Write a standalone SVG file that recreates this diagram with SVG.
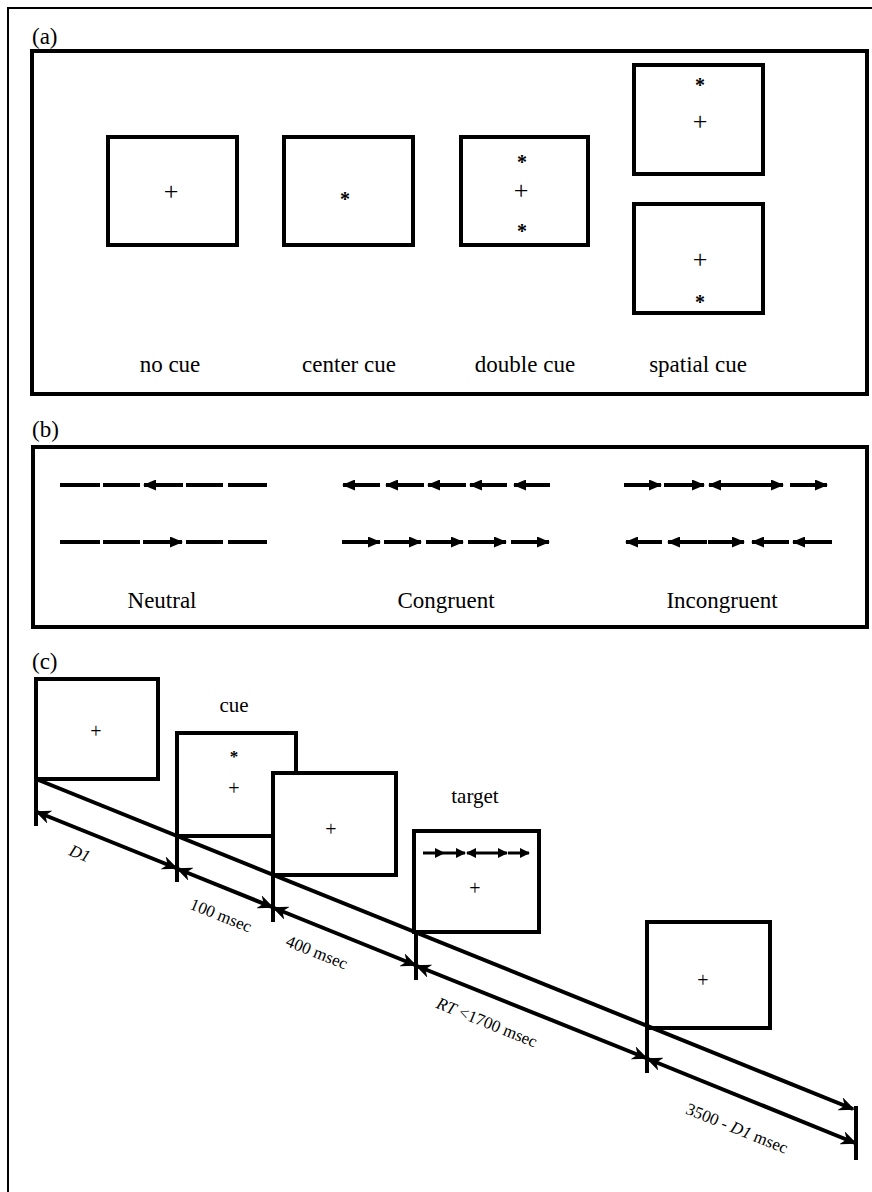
<svg xmlns="http://www.w3.org/2000/svg" width="872" height="1192" viewBox="0 0 872 1192">
<defs>
<style>
text{font-family:'Liberation Serif','Times New Roman',Times,serif;fill:#000}
.lbl{font-size:23px}
.bx{fill:#fff;stroke:#000;stroke-width:4}
.pl{font-size:26px;text-anchor:middle}
.as{font-size:20px;text-anchor:middle;font-weight:bold}
.fl{stroke:#000;stroke-width:4;fill:none}
.fa{stroke:#000;stroke-width:4;fill:none;marker-end:url(#hb)}
.ta{stroke:#000;stroke-width:3;fill:none;marker-end:url(#hs)}
.tl{stroke:#000;stroke-width:4;fill:none}
.dl{stroke:#000;stroke-width:4;fill:none;marker-start:url(#hc);marker-end:url(#hc)}
.rl{font-size:17px;text-anchor:middle}
</style>
<marker id="hb" markerUnits="userSpaceOnUse" markerWidth="13" markerHeight="11" refX="12" refY="5.5" orient="auto"><path d="M0,0 L13,5.5 L0,11 z" fill="#000"/></marker>
<marker id="hs" markerUnits="userSpaceOnUse" markerWidth="10" markerHeight="10" refX="9" refY="5" orient="auto"><path d="M0,0 L10,5 L0,10 z" fill="#000"/></marker>
<marker id="hc" markerUnits="userSpaceOnUse" markerWidth="16" markerHeight="14" refX="14" refY="7" orient="auto-start-reverse"><path d="M0,0 L16,7 L0,14 L5,7 z" fill="#000"/></marker>
</defs>
<rect width="872" height="1192" fill="#fff"/>
<path d="M8,1192 V8 H872" fill="none" stroke="#000" stroke-width="2"/>

<g font-family="'Liberation Serif', 'Times New Roman', serif">
<g id="panel-a">
<text class="lbl" x="32" y="44">(a)</text>
<rect x="32" y="51" width="835" height="343" fill="none" stroke="#000" stroke-width="4"/>
<g id="no-cue">
<rect class="bx" x="108" y="137" width="129" height="108"/>
<text class="pl" x="171" y="200">+</text>
<text class="lbl" x="170" y="372" text-anchor="middle">no cue</text>
</g>
<g id="center-cue">
<rect class="bx" x="284" y="137" width="129" height="108"/>
<text class="as" x="345" y="206">*</text>
<text class="lbl" x="349" y="372" text-anchor="middle">center cue</text>
</g>
<g id="double-cue">
<rect class="bx" x="461" y="137" width="127" height="108"/>
<text class="as" x="522" y="169">*</text>
<text class="pl" x="521" y="199">+</text>
<text class="as" x="522" y="238">*</text>
<text class="lbl" x="525" y="372" text-anchor="middle">double cue</text>
</g>
<g id="spatial-cue">
<rect class="bx" x="634" y="65" width="129" height="109"/>
<text class="as" x="700" y="92">*</text>
<text class="pl" x="700" y="130">+</text>
<rect class="bx" x="634" y="204" width="129" height="109"/>
<text class="pl" x="700" y="268">+</text>
<text class="as" x="700" y="309">*</text>
<text class="lbl" x="698" y="372" text-anchor="middle">spatial cue</text>
</g>
</g>

<g id="panel-b">
<text class="lbl" x="32" y="437">(b)</text>
<rect x="33" y="447" width="834" height="180" fill="none" stroke="#000" stroke-width="4"/>
<g id="neutral">
<path class="fl" d="M60,485 H100 M103,485 H140 M186,485 H223 M228,485 H267"/>
<line class="fa" x1="183" y1="485" x2="144" y2="485"/>
<path class="fl" d="M60,542 H100 M103,542 H140 M186,542 H223 M228,542 H267"/>
<line class="fa" x1="143" y1="542" x2="182" y2="542"/>
<text class="lbl" x="162" y="608" text-anchor="middle">Neutral</text>
</g>
<g id="congruent">
<line class="fa" x1="380" y1="485" x2="343" y2="485"/>
<line class="fa" x1="424" y1="485" x2="386" y2="485"/>
<line class="fa" x1="466" y1="485" x2="428" y2="485"/>
<line class="fa" x1="507" y1="485" x2="470" y2="485"/>
<line class="fa" x1="550" y1="485" x2="514" y2="485"/>
<line class="fa" x1="342" y1="542" x2="380" y2="542"/>
<line class="fa" x1="384" y1="542" x2="421" y2="542"/>
<line class="fa" x1="426" y1="542" x2="463" y2="542"/>
<line class="fa" x1="468" y1="542" x2="506" y2="542"/>
<line class="fa" x1="511" y1="542" x2="549" y2="542"/>
<text class="lbl" x="446" y="608" text-anchor="middle">Congruent</text>
</g>
<g id="incongruent">
<line class="fa" x1="624" y1="485" x2="661" y2="485"/>
<line class="fa" x1="664" y1="485" x2="704" y2="485"/>
<line class="fa" x1="746" y1="485" x2="709" y2="485"/>
<line class="fa" x1="746" y1="485" x2="783" y2="485"/>
<line class="fa" x1="790" y1="485" x2="827" y2="485"/>
<line class="fa" x1="662" y1="542" x2="626" y2="542"/>
<line class="fa" x1="707" y1="542" x2="668" y2="542"/>
<line class="fa" x1="708" y1="542" x2="744" y2="542"/>
<line class="fa" x1="789" y1="542" x2="752" y2="542"/>
<line class="fa" x1="832" y1="542" x2="793" y2="542"/>
<text class="lbl" x="722" y="608" text-anchor="middle">Incongruent</text>
</g>
</g>

<g id="panel-c">
<text class="lbl" x="32" y="669">(c)</text>
<g id="fixation1">
<rect class="bx" x="36" y="679" width="122" height="100"/>
<text x="96" y="738" font-size="20" text-anchor="middle">+</text>
</g>
<g id="cue-frame">
<text x="234" y="712" font-size="21" text-anchor="middle">cue</text>
<rect class="bx" x="177" y="733" width="119" height="103"/>
<text x="234" y="762" font-size="17" text-anchor="middle" font-weight="bold">*</text>
<text x="234" y="795" font-size="20" text-anchor="middle">+</text>
</g>
<g id="fixation2">
<rect class="bx" x="273" y="773" width="123" height="102"/>
<text x="331" y="836" font-size="20" text-anchor="middle">+</text>
</g>
<g id="target-frame">
<text x="475" y="803" font-size="21" text-anchor="middle">target</text>
<rect class="bx" x="414" y="831" width="125" height="101"/>
<line class="ta" x1="423" y1="853" x2="444" y2="853"/>
<line class="ta" x1="444" y1="853" x2="465" y2="853"/>
<line class="ta" x1="486" y1="853" x2="467" y2="853"/>
<line class="ta" x1="486" y1="853" x2="507" y2="853"/>
<line class="ta" x1="508" y1="853" x2="529" y2="853"/>
<text x="475" y="895" font-size="20" text-anchor="middle">+</text>
</g>
<g id="fixation3">
<rect class="bx" x="647" y="922" width="123" height="106"/>
<text x="703" y="987" font-size="20" text-anchor="middle">+</text>
</g>
<g id="connectors">
<line class="tl" x1="36" y1="779" x2="853" y2="1109" marker-end="url(#hc)"/>
<path class="tl" d="M36,777 V826 M177,834 V882 M273,873 V922 M416,930 V980 M647,1024 V1073 M856,1106 V1160" stroke-width="3.5"/>
<line class="dl" x1="37" y1="812" x2="176" y2="868"/>
<line class="dl" x1="178" y1="869" x2="272" y2="907"/>
<line class="dl" x1="274" y1="908" x2="415" y2="965"/>
<line class="dl" x1="417" y1="966" x2="646" y2="1058"/>
<line class="dl" x1="648" y1="1059" x2="855" y2="1143"/>
</g>
<g id="labels-c">
<text class="rl" transform="translate(80,853) rotate(22)" x="0" y="6" font-style="italic">D1</text>
<text class="rl" transform="translate(221,915) rotate(22)" x="0" y="6">100 msec</text>
<text class="rl" transform="translate(317,952) rotate(22)" x="0" y="6">400 msec</text>
<text class="rl" transform="translate(487,1022) rotate(22)" x="0" y="6"><tspan font-style="italic">RT</tspan> &lt;1700 msec</text>
<text class="rl" transform="translate(737,1128) rotate(22)" x="0" y="6">3500 - <tspan font-style="italic">D1</tspan> msec</text>
</g>
</g>
</g>
</svg>
